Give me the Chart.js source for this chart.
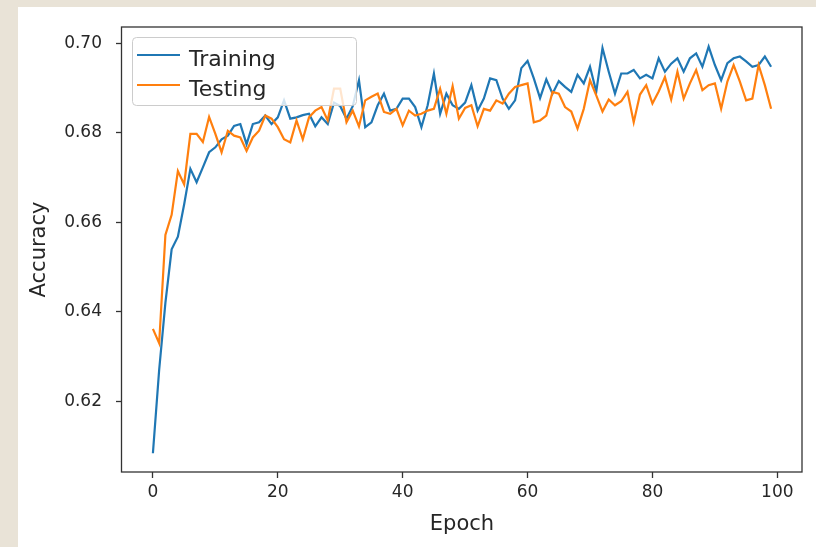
<!DOCTYPE html>
<html>
<head>
<meta charset="utf-8">
<title>Accuracy per epoch</title>
<script src="https://cdn.jsdelivr.net/npm/chart.js@4.4.1/dist/chart.umd.min.js"></script>
<style>
    html, body { margin: 0; padding: 0; background: #ffffff; }
    canvas { display: block; }
</style>
</head>
<body>
<canvas id="chart-accuracy" width="816" height="547"></canvas>
<script>
// Datos (precisión por época)
const EPOCHS = Array.from({ length: 100 }, (_, i) => i);

const TRAINING = [
    0.6084, 0.6270, 0.6420, 0.6540, 0.6568, 0.6640, 0.6720, 0.6690, 0.6723, 0.6757,
    0.6768, 0.6786, 0.6794, 0.6816, 0.6820, 0.6775, 0.6820, 0.6824, 0.6839, 0.6820,
    0.6835, 0.6873, 0.6832, 0.6835, 0.6840, 0.6843, 0.6815, 0.6835, 0.6820, 0.6868,
    0.6860, 0.6832, 0.6860, 0.6918, 0.6813, 0.6824, 0.6862, 0.6888, 0.6850, 0.6854,
    0.6877, 0.6877, 0.6858, 0.6813, 0.6862, 0.6933, 0.6843, 0.6888, 0.6862, 0.6854,
    0.6868, 0.6907, 0.6850, 0.6877, 0.6922, 0.6918, 0.6877, 0.6854, 0.6873, 0.6945,
    0.6961, 0.6922, 0.6878, 0.6920, 0.6888, 0.6916, 0.6903, 0.6892, 0.6930, 0.6911,
    0.6948, 0.6892, 0.6990, 0.6937, 0.6888, 0.6933, 0.6933, 0.6941, 0.6922, 0.6930,
    0.6922, 0.6967, 0.6937, 0.6955, 0.6967, 0.6937, 0.6967, 0.6978, 0.6948, 0.6993,
    0.6952, 0.6918, 0.6956, 0.6967, 0.6971, 0.6960, 0.6948, 0.6952, 0.6971, 0.6948
];

const TESTING = [
    0.6362, 0.6330, 0.6572, 0.6617, 0.6715, 0.6685, 0.6798, 0.6798, 0.6780, 0.6836,
    0.6798, 0.6757, 0.6805, 0.6794, 0.6790, 0.6760, 0.6790, 0.6805, 0.6839, 0.6832,
    0.6813, 0.6786, 0.6779, 0.6828, 0.6786, 0.6835, 0.6850, 0.6858, 0.6828, 0.6899,
    0.6899, 0.6824, 0.6850, 0.6815, 0.6873, 0.6881, 0.6888, 0.6847, 0.6843, 0.6854,
    0.6817, 0.6850, 0.6839, 0.6843, 0.6850, 0.6854, 0.6899, 0.6843, 0.6905, 0.6832,
    0.6856, 0.6862, 0.6815, 0.6854, 0.6850, 0.6873, 0.6866, 0.6888, 0.6903, 0.6907,
    0.6911, 0.6824, 0.6828, 0.6839, 0.6892, 0.6888, 0.6858, 0.6848, 0.6810, 0.6854,
    0.6918, 0.6884, 0.6848, 0.6875, 0.6862, 0.6871, 0.6892, 0.6824, 0.6886, 0.6907,
    0.6866, 0.6893, 0.6925, 0.6875, 0.6937, 0.6877, 0.6911, 0.6941, 0.6896, 0.6907,
    0.6911, 0.6854, 0.6915, 0.6952, 0.6915, 0.6873, 0.6877, 0.6952, 0.6907, 0.6854
];

const X_TICKS = [0, 20, 40, 60, 80, 100];
const Y_TICKS = [0.62, 0.64, 0.66, 0.68, 0.70];
const SERIES_LABELS = ['Training', 'Testing'];
const SERIES_COLORS = ['#1f77b4', '#ff7f0e'];

const FONT = "'DejaVu Sans', sans-serif";
const TEXT_COLOR = '#262626';
const AXIS_COLOR = '#333333';
const LINE_WIDTH = 2.2;

// Fondo blanco con el borde beige de la captura
const backgroundPlugin = {
    id: 'background',
    beforeDraw(chart) {
        const { ctx, width, height } = chart;
        ctx.save();
        ctx.fillStyle = '#ffffff';
        ctx.fillRect(0, 0, width, height);
        ctx.fillStyle = '#e9e3d7';
        ctx.fillRect(0, 0, width, 7);
        ctx.fillRect(0, 0, 18, height);
        ctx.restore();
    }
};

// Los cuatro bordes del área (estilo matplotlib)
const framePlugin = {
    id: 'frame',
    afterDatasetsDraw(chart) {
        const { ctx, chartArea: a } = chart;
        ctx.save();
        ctx.strokeStyle = AXIS_COLOR;
        ctx.lineWidth = 1.3;
        ctx.strokeRect(a.left - 0.5, a.top, a.right - a.left + 0.5, a.bottom - a.top);
        ctx.restore();
    }
};

// Leyenda dentro del gráfico, arriba a la izquierda
const insideLegendPlugin = {
    id: 'insideLegend',
    afterDatasetsDraw(chart) {
        const { ctx, chartArea: a } = chart;
        const x = a.left + 10, y = a.top + 10, w = 224, h = 68;
        ctx.save();
        ctx.beginPath();
        ctx.roundRect(x + 0.5, y + 0.5, w, h, 4);
        ctx.fillStyle = 'rgba(255, 255, 255, 0.8)';
        ctx.fill();
        ctx.strokeStyle = '#cccccc';
        ctx.lineWidth = 1;
        ctx.stroke();

        chart.data.datasets.forEach((ds, i) => {
            const ly = y + 18 + i * 30;
            ctx.beginPath();
            ctx.moveTo(x + 5, ly);
            ctx.lineTo(x + 48, ly);
            ctx.strokeStyle = ds.borderColor;
            ctx.lineWidth = LINE_WIDTH;
            ctx.stroke();
            ctx.fillStyle = TEXT_COLOR;
            ctx.font = `22px ${FONT}`;
            ctx.textBaseline = 'alphabetic';
            ctx.fillText(ds.label, x + 57, ly + 10.5);
        });
        ctx.restore();
    }
};

const toPoints = values => values.map((v, i) => ({ x: EPOCHS[i], y: v }));

new Chart(document.getElementById('chart-accuracy'), {
    type: 'line',
    data: {
        datasets: [
            {
                label: SERIES_LABELS[0],
                data: toPoints(TRAINING),
                borderColor: SERIES_COLORS[0],
                borderWidth: LINE_WIDTH,
                pointRadius: 0,
                tension: 0,
                order: 1
            },
            {
                label: SERIES_LABELS[1],
                data: toPoints(TESTING),
                borderColor: SERIES_COLORS[1],
                borderWidth: LINE_WIDTH,
                pointRadius: 0,
                tension: 0,
                order: 0
            }
        ]
    },
    options: {
        responsive: false,
        animation: false,
        devicePixelRatio: 1,
        layout: { padding: { top: 27, right: 14, bottom: 0, left: 0 } },
        plugins: {
            legend: { display: false },
            tooltip: { enabled: false }
        },
        scales: {
            x: {
                type: 'linear',
                min: -4.95,
                max: 103.95,
                afterFit(scale) { scale.height = 75; },
                afterBuildTicks(scale) { scale.ticks = X_TICKS.map(v => ({ value: v })); },
                border: { display: false },
                grid: {
                    drawOnChartArea: false,
                    drawTicks: true,
                    tickLength: 6,
                    tickWidth: 1.3,
                    tickColor: AXIS_COLOR
                },
                ticks: {
                    color: TEXT_COLOR,
                    font: { family: FONT, size: 17 },
                    padding: 4,
                    maxRotation: 0,
                    callback: v => String(v)
                },
                title: {
                    display: true,
                    text: 'Epoch',
                    color: TEXT_COLOR,
                    font: { family: FONT, size: 21 },
                    padding: { top: 0, bottom: 10 }
                }
            },
            y: {
                min: 0.6042,
                max: 0.7037,
                afterFit(scale) { scale.width = 122; },
                afterBuildTicks(scale) { scale.ticks = Y_TICKS.map(v => ({ value: v })); },
                border: { display: false },
                grid: {
                    drawOnChartArea: false,
                    drawTicks: true,
                    tickLength: 6,
                    tickWidth: 1.3,
                    tickColor: AXIS_COLOR
                },
                ticks: {
                    color: TEXT_COLOR,
                    font: { family: FONT, size: 17 },
                    padding: 14,
                    callback: v => v.toFixed(2)
                },
                title: {
                    display: true,
                    text: 'Accuracy',
                    color: TEXT_COLOR,
                    font: { family: FONT, size: 21 },
                    padding: { top: 27, bottom: 0 }
                }
            }
        }
    },
    plugins: [backgroundPlugin, framePlugin, insideLegendPlugin]
});
</script>
</body>
</html>
